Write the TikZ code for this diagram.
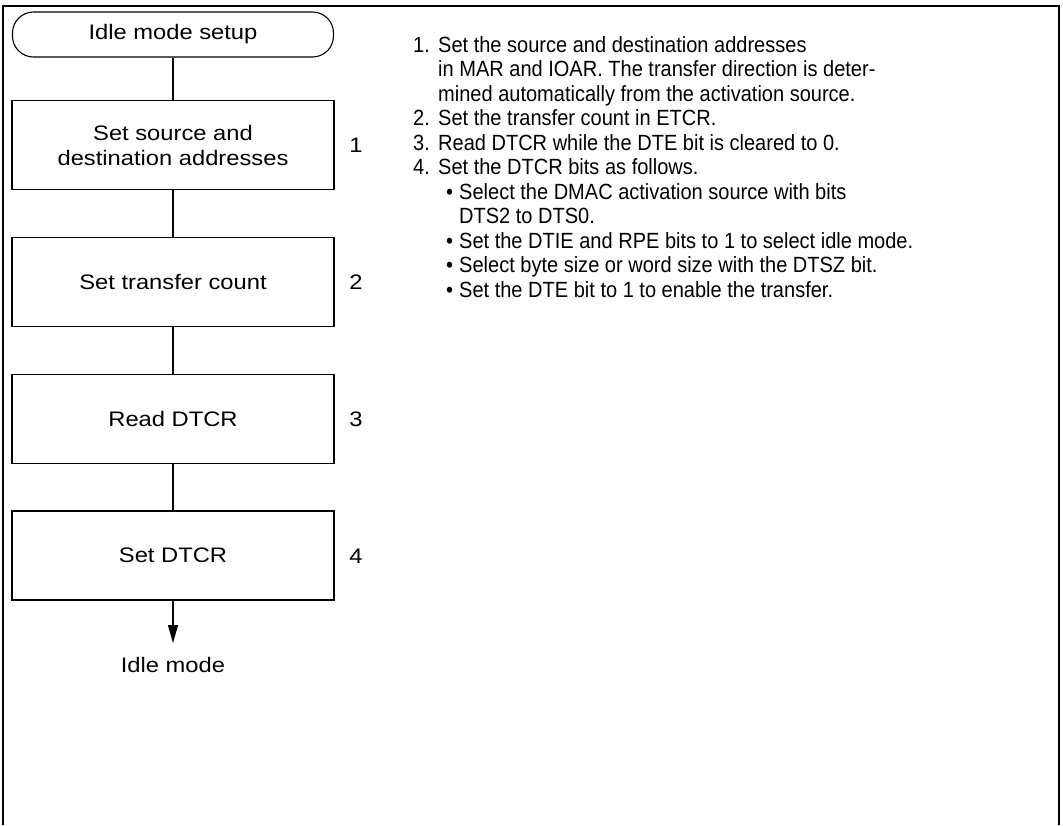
\documentclass[tikz,border=0pt]{standalone}
\usepackage{fontspec}
\setmainfont{Liberation Sans}[FakeStretch=1.13]
\newfontfamily\notefont{Liberation Sans}[FakeStretch=0.91]
\usetikzlibrary{arrows.meta}
\tikzset{
  stepbox/.style={draw, line width=1.1pt, minimum width=322pt, minimum height=89pt, align=center, inner sep=0pt},
  termbox/.style={draw, line width=1.1pt, rounded corners=21pt, minimum width=321pt, minimum height=45pt, inner sep=0pt},
  conn/.style={line width=1.1pt},
  numlbl/.style={inner sep=0pt},
  txt/.style={anchor=base west, inner sep=0pt, font=\notefont\fontsize{22}{24}\selectfont}
}
\begin{document}
\begin{tikzpicture}[x=1pt,y=-1pt,font=\fontsize{21}{25}\selectfont]
\useasboundingbox (0,0) rectangle (1063,825);
\draw[line width=1.5pt] (3,825) -- (3,6) -- (1059,6) -- (1059,825);

\node[termbox] (start) at (173,34.5) {Idle mode setup};
\node[stepbox] (b1) at (173,145) {Set source and\\destination addresses};
\node[stepbox] (b2) at (173,282) {Set transfer count};
\node[stepbox] (b3) at (173,419) {Read DTCR};
\node[stepbox] (b4) at (173,555.5) {Set DTCR};
\coordinate (tip) at (173,643);
\node (end) at (173,665) {Idle mode};

\draw[conn] (start) -- (b1);
\draw[conn] (b1) -- (b2);
\draw[conn] (b2) -- (b3);
\draw[conn] (b3) -- (b4);
\draw[conn,-{Triangle[length=18pt,width=10pt]}] (b4.south) -- (tip);

\node[numlbl] (n1) at (356,145) {1};
\node[numlbl] (n2) at (356,282) {2};
\node[numlbl] (n3) at (356,419) {3};
\node[numlbl] (n4) at (356,556) {4};

\node[txt] (k1) at (413,52) {1.};
\node[txt] (l1) at (438,52) {Set the source and destination addresses};
\node[txt] (l2) at (438,76.5) {in MAR and IOAR. The transfer direction is deter-};
\node[txt] (l3) at (438,101) {mined automatically from the activation source.};
\node[txt] (k2) at (413,125.5) {2.};
\node[txt] (l4) at (438,125.5) {Set the transfer count in ETCR.};
\node[txt] (k3) at (413,150) {3.};
\node[txt] (l5) at (438,150) {Read DTCR while the DTE bit is cleared to 0.};
\node[txt] (k4) at (413,174.5) {4.};
\node[txt] (l6) at (438,174.5) {Set the DTCR bits as follows.};
\node[txt] (d1) at (446,199) {•};
\node[txt] (l7) at (459,199) {Select the DMAC activation source with bits};
\node[txt] (l8) at (459,223.5) {DTS2 to DTS0.};
\node[txt] (d2) at (446,248) {•};
\node[txt] (l9) at (459,248) {Set the DTIE and RPE bits to 1 to select idle mode.};
\node[txt] (d3) at (446,272.5) {•};
\node[txt] (l10) at (459,272.5) {Select byte size or word size with the DTSZ bit.};
\node[txt] (d4) at (446,297) {•};
\node[txt] (l11) at (459,297) {Set the DTE bit to 1 to enable the transfer.};
\end{tikzpicture}
\end{document}
